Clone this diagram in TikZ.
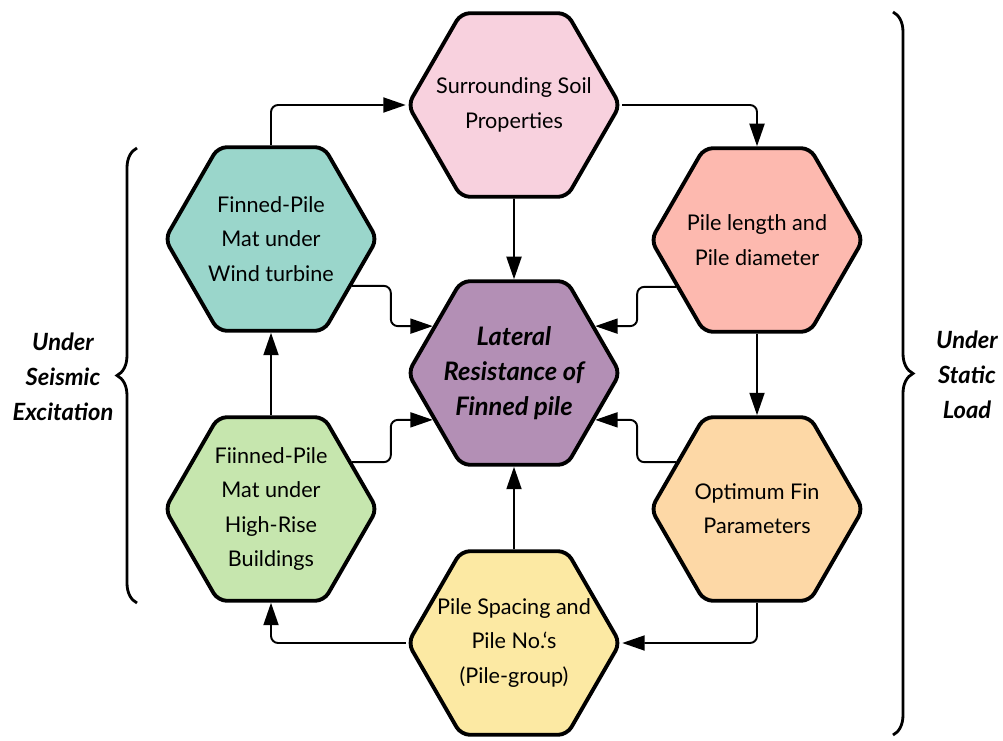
\documentclass[tikz,border=0pt]{standalone}
\usepackage{fontspec}
\setmainfont{Lato}
\usetikzlibrary{arrows.meta,positioning,shapes.geometric,decorations.pathreplacing}
\definecolor{soilpink}{RGB}{248,209,222}
\definecolor{latpurple}{RGB}{179,143,181}
\definecolor{windteal}{RGB}{154,214,203}
\definecolor{risegreen}{RGB}{198,230,174}
\definecolor{lensalmon}{RGB}{253,185,175}
\definecolor{finorange}{RGB}{253,216,166}
\definecolor{grpyellow}{RGB}{252,233,163}

\begin{document}
\begin{tikzpicture}[
  hexa/.style={draw,line width=2.2pt,regular polygon,regular polygon sides=6,
    minimum size=4.24cm,inner sep=-0.4cm,rounded corners=5pt,align=center,
    font=\fontsize{12.3}{19.5}\selectfont},
  link/.style={-{Triangle[length=4.5mm,width=3mm]},line width=1.1pt,rounded corners=4pt},
  brc/.style={decorate,decoration={brace,amplitude=0.4cm},line width=1.6pt},
  bracelab/.style={align=center,font=\fontsize{13.5}{20}\selectfont\bfseries\itshape}]
\useasboundingbox (-10.28,-7.34) rectangle (9.78,7.46);
% hexagons
\node[hexa,fill=latpurple,font=\fontsize{14.5}{20}\selectfont\bfseries\itshape] (lateral) at (0,0) {Lateral\\Resistance of\\Finned pile};
\node[hexa,fill=soilpink] (soil) at (0,5.36) {Surrounding Soil\\Properties};
\node[hexa,fill=windteal] (windmat) at (-4.86,2.68) {Finned-Pile\\Mat under\\Wind turbine};
\node[hexa,fill=risegreen] (risemat) at (-4.86,-2.72) {Fiinned-Pile\\Mat under\\High-Rise\\Buildings};
\node[hexa,fill=lensalmon] (pilelen) at (4.86,2.66) {Pile length and\\Pile diameter};
\node[hexa,fill=finorange] (finpar) at (4.86,-2.72) {Optimum Fin\\Parameters};
\node[hexa,fill=grpyellow] (pilegrp) at (0,-5.4) {Pile Spacing and\\Pile No.`s\\(Pile-group)};
% connectors
\draw[link] (soil.east) -| (pilelen.north);
\draw[link] (windmat.north) |- (soil.west);
\draw[link] (soil.south) -- (lateral.north);
\draw[link] (pilelen.south) -- (finpar.north);
\draw[link] (finpar.south) |- (pilegrp.east);
\draw[link] (pilegrp.west) -| (risemat.south);
\draw[link] (pilegrp.north) -- (lateral.south);
\draw[link] (risemat.north) -- (windmat.south);
\draw[link] (windmat.330) -| ([xshift=-0.84cm]lateral.150) -- (lateral.150);
\draw[link] (risemat.30) -| ([xshift=-0.84cm]lateral.210) -- (lateral.210);
\draw[link] (pilelen.210) -| ([xshift=0.84cm]lateral.30) -- (lateral.30);
\draw[link] (finpar.150) -| ([xshift=0.84cm]lateral.330) -- (lateral.330);
% braces
\draw[brc] (-7.54,-4.6) -- (-7.54,4.5);
\node[bracelab] (seismic) at (-9.02,-0.08) {Under\\Seismic\\Excitation};
\draw[brc] (7.58,7.22) -- (7.58,-7.24);
\node[bracelab] (static) at (9.06,-0.04) {Under\\Static\\Load};
\end{tikzpicture}
\end{document}
